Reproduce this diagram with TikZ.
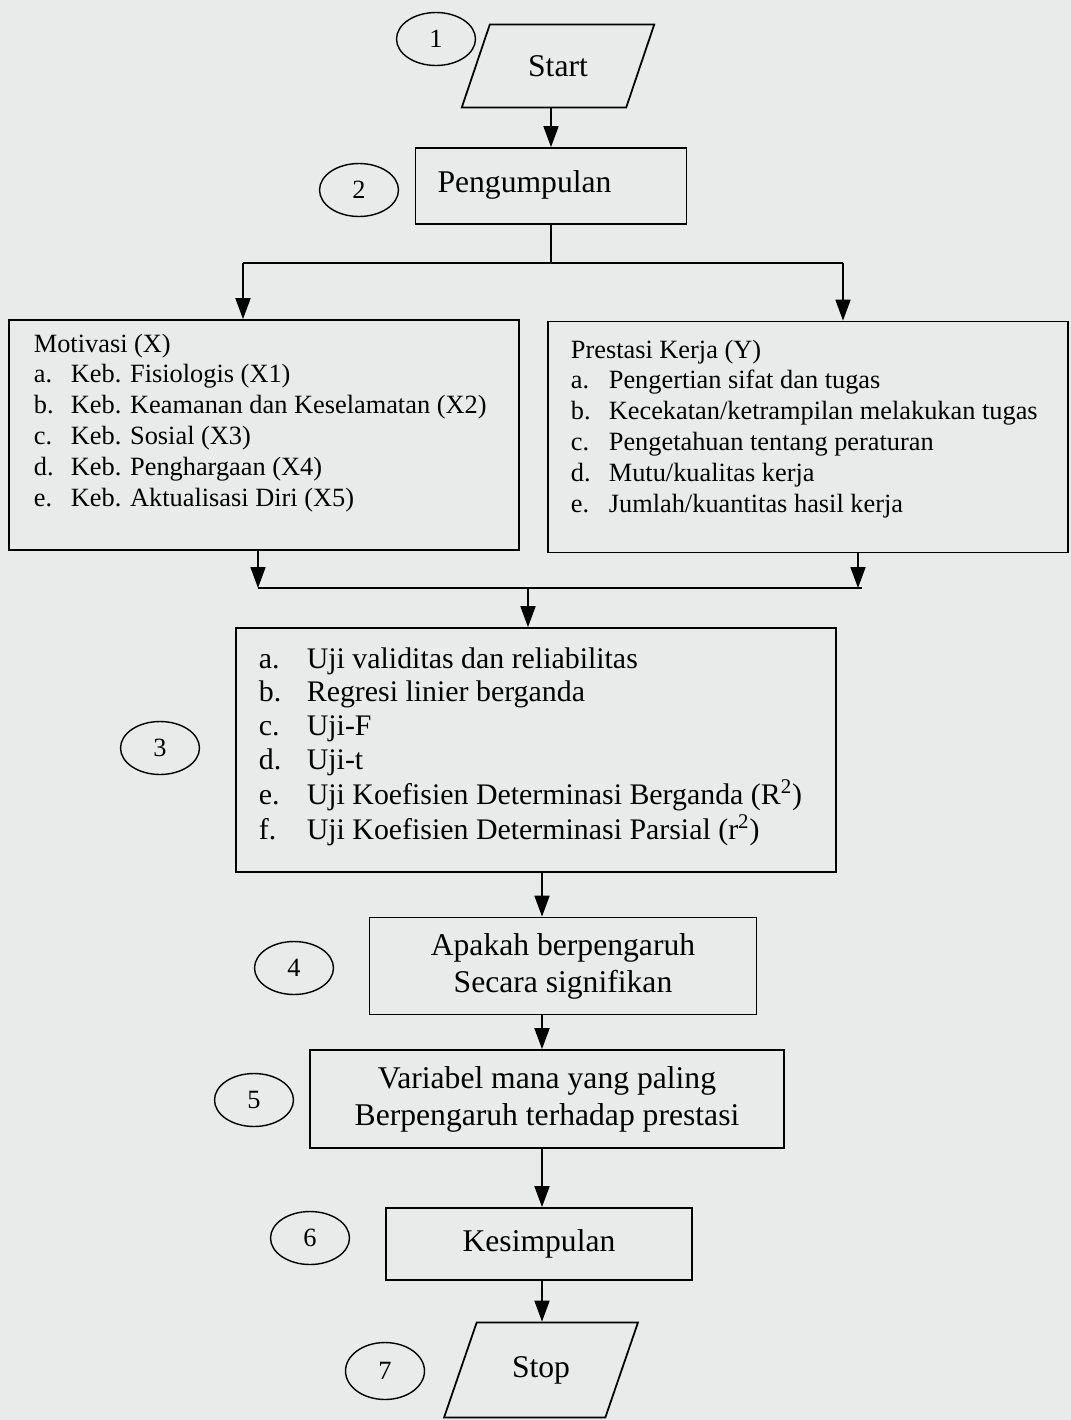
\documentclass[tikz,border=0pt]{standalone}
\usepackage{fontspec}
\setmainfont{Liberation Serif}
\usetikzlibrary{shapes.geometric,arrows.meta}
\definecolor{paper}{RGB}{233,235,234}
\tikzset{
  box/.style={draw, rectangle, line width=1pt, inner sep=0pt},
  io/.style={draw, trapezium, trapezium left angle=60, trapezium right angle=120,
    trapezium stretches=true, line width=1pt, inner sep=0pt, font=\fontsize{18}{21}\selectfont},
  num/.style={draw, ellipse, line width=0.8pt, minimum width=1.58cm, minimum height=1.06cm,
    inner sep=0pt, font=\fontsize{15}{17}\selectfont},
  big/.style={font=\fontsize{18}{21}\selectfont, align=center},
  list/.style={inner sep=0pt, anchor=base west, font=\fontsize{15}{17.6}\selectfont},
}
\begin{document}
\begin{tikzpicture}[x=0.02cm, y=-0.02cm, >={Triangle[length=0.42cm,width=0.3cm]}, line width=1pt]
\fill[paper] (0,0) rectangle (1071,1420);
\useasboundingbox (0,0) rectangle (1071,1420);

% start and collection
\node[io, minimum width=3.86cm, minimum height=1.66cm] (start) at (558,66) {\raisebox{-0.04cm}{Start}};
\node[num] (n1) at (436,39) {1};
\node[box, big, minimum width=5.42cm, minimum height=1.52cm] (peng) at (551,186) {\raisebox{0.16cm}{Pengumpulan}\hspace{1.06cm}};
\node[num] (n2) at (359,190) {2};
\draw[->] (peng.north |- start.south) -- (peng.north);

% variables
\node[box, minimum width=10.2cm, minimum height=4.6cm] (mot) at (264,435) {};
\node[list] (motlist) at (33,352) {\begin{tabular}[t]{@{}p{0.74cm}@{}l@{}}
  \multicolumn{2}{@{}l@{}}{Motivasi (X)}\\
  a. & Keb. Fisiologis (X1)\\
  b. & Keb. Keamanan dan Keselamatan (X2)\\
  c. & Keb. Sosial (X3)\\
  d. & Keb. Penghargaan (X4)\\
  e. & Keb. Aktualisasi Diri (X5)
\end{tabular}};
\node[box, minimum width=10.4cm, minimum height=4.62cm] (pres) at (808,437) {};
\node[list] (preslist) at (570,358) {\begin{tabular}[t]{@{}p{0.76cm}@{}l@{}}
  \multicolumn{2}{@{}l@{}}{Prestasi Kerja (Y)}\\
  a. & Pengertian sifat dan tugas\\
  b. & Kecekatan/ketrampilan melakukan tugas\\
  c. & Pengetahuan tentang peraturan\\
  d. & Mutu/kualitas kerja\\
  e. & Jumlah/kuantitas hasil kerja
\end{tabular}};

\coordinate (lefttap) at (243,263);
\coordinate (righttap) at (843,263);
\draw (peng.south) -- (peng.south |- lefttap);
\draw (lefttap) -- (righttap);
\draw[->] (lefttap) -- (mot.north -| lefttap);
\draw[->] (righttap) -- (pres.north -| righttap);

% analysis
\node[box, minimum width=12cm, minimum height=4.88cm] (tests) at (536,750) {};
\node[list, font=\fontsize{17}{19.3}\selectfont] (testlist) at (258,668) {\begin{tabular}[t]{@{}p{0.96cm}@{}l@{}}
  a. & Uji validitas dan reliabilitas\\
  b. & Regresi linier berganda\\
  c. & Uji-F\\
  d. & Uji-t\\
  e. & Uji Koefisien Determinasi Berganda (R\textsuperscript{2})\\
  f. & Uji Koefisien Determinasi Parsial (r\textsuperscript{2})
\end{tabular}};
\node[num] (n3) at (160,748) {3};

\coordinate (joinl) at (258,588);
\coordinate (joinr) at (862,588);
\coordinate (presdrop) at (858,588);
\coordinate (merge) at (528,588);
\draw[->] (mot.south -| joinl) -- (joinl);
\draw[->] (pres.south -| presdrop) -- (presdrop);
\draw (joinl) -- (joinr);
\draw[->] (merge) -- (tests.north -| merge);

% decision and end
\node[box, big, minimum width=7.74cm, minimum height=1.94cm] (sig) at (563,966) {Apakah berpengaruh\\Secara signifikan};
\node[num] (n4) at (294,968) {4};
\node[box, big, minimum width=9.48cm, minimum height=1.96cm] (dom) at (547,1099) {Variabel mana yang paling\\Berpengaruh terhadap prestasi};
\node[num] (n5) at (254,1100) {5};
\node[box, big, minimum width=6.12cm, minimum height=1.44cm] (concl) at (539,1244) {Kesimpulan};
\node[num] (n6) at (310,1238) {6};
\node[io, trapezium left angle=62, trapezium right angle=118, minimum width=3.9cm, minimum height=1.9cm] (stop) at (541,1370) {\raisebox{-0.08cm}{Stop}};
\node[num, minimum height=1.14cm] (n7) at (385,1371) {7};

\coordinate (spine) at (542,0);
\draw[->] (tests.south -| spine) -- (sig.north -| spine);
\draw[->] (sig.south -| spine) -- (dom.north -| spine);
\draw[->] (dom.south -| spine) -- (concl.north -| spine);
\draw[->] (concl.south -| spine) -- (stop.north -| spine);
\end{tikzpicture}
\end{document}
